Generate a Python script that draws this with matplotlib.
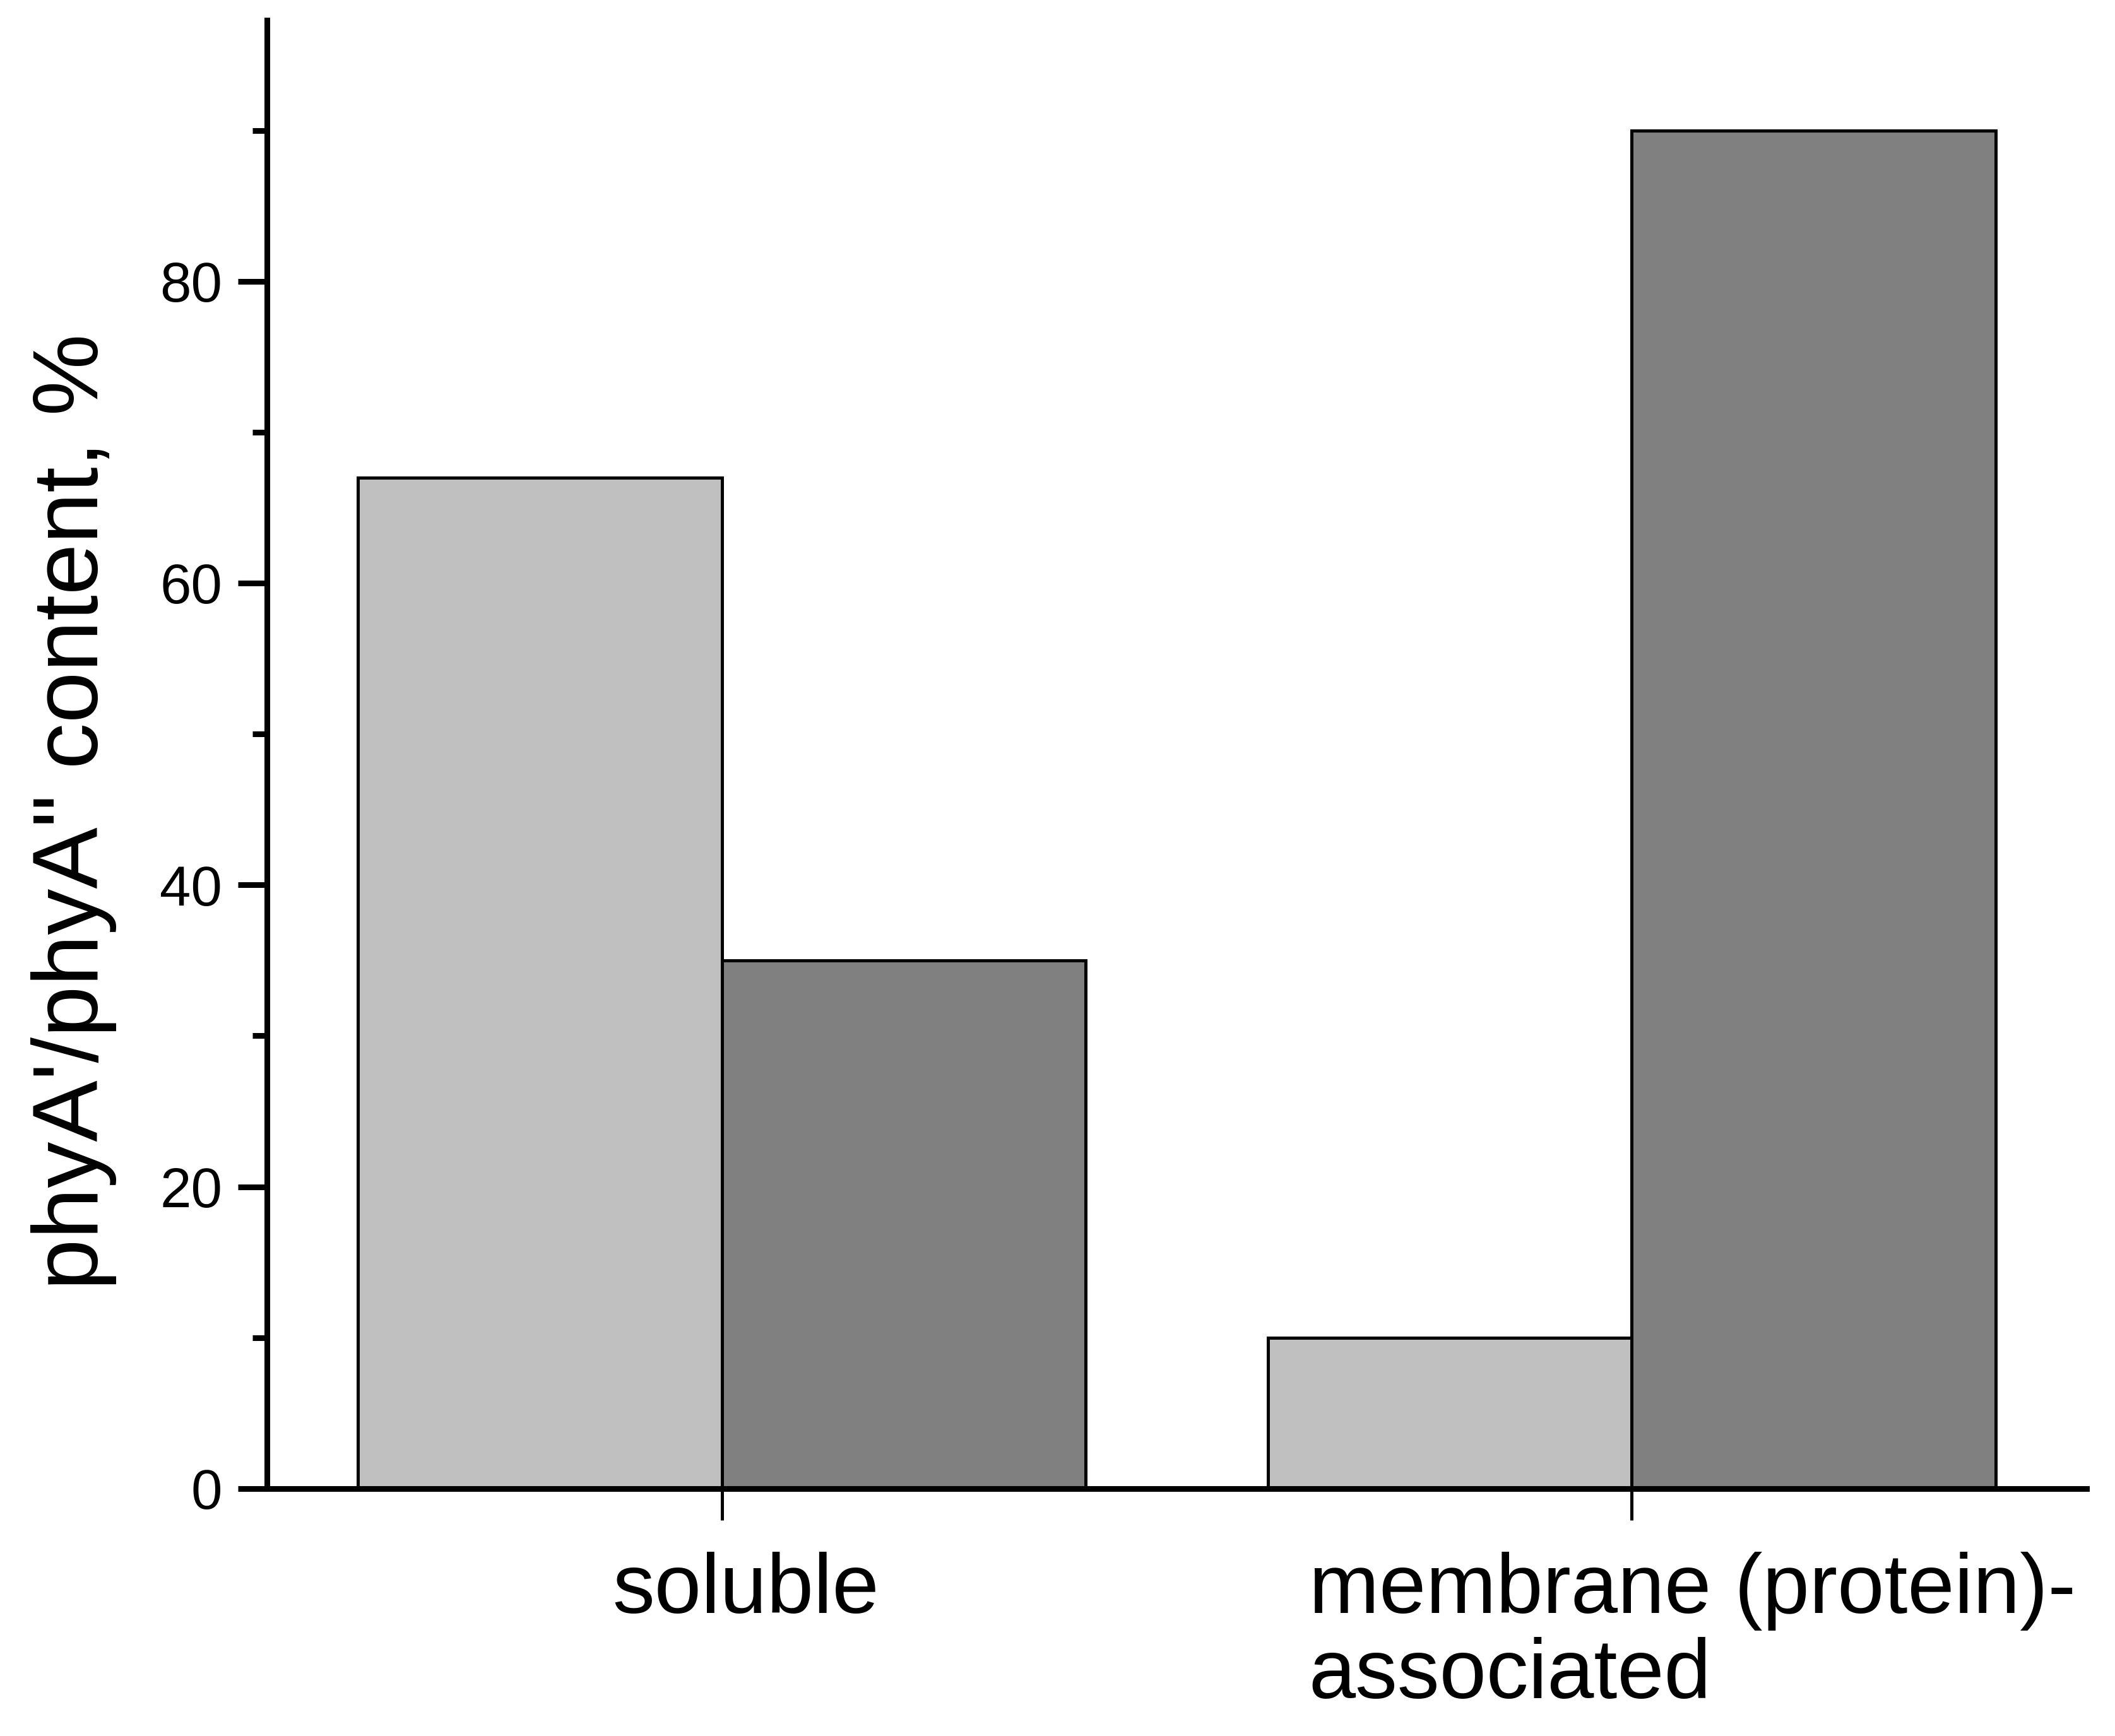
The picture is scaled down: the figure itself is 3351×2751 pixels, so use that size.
# phyA' / phyA'' distribution between soluble and membrane fractions

import numpy as np
import matplotlib.pyplot as plt
from matplotlib.ticker import MultipleLocator
from matplotlib.transforms import ScaledTranslation

plt.rcParams['font.family'] = ['Liberation Sans', 'DejaVu Sans']

# data
categories = ['soluble', 'membrane (protein)-\nassociated']
phyA_prime = [67, 10]      # light bars
phyA_dprime = [35, 90]     # dark bars

x = np.arange(1, len(categories) + 1)
w = 0.4

fig = plt.figure(figsize=(33.51, 27.51), dpi=100)
ax = fig.add_axes([0.1262, 0.1425, 0.8604, 0.8459])

ax.bar(x - w / 2, phyA_prime, width=w, color='#c0c0c0', edgecolor='black', linewidth=3.6)
ax.bar(x + w / 2, phyA_dprime, width=w, color='#808080', edgecolor='black', linewidth=3.6)

ax.set_xlim(0.5, 2.5)
ax.set_ylim(0, 97.3)

for s in ['top', 'right']:
    ax.spines[s].set_visible(False)
for s in ['left', 'bottom']:
    ax.spines[s].set_linewidth(6.5)

ax.yaxis.set_major_locator(MultipleLocator(20))
ax.yaxis.set_minor_locator(MultipleLocator(10))
ax.tick_params(axis='y', which='major', direction='out', length=33, width=6.5,
               labelsize=64, pad=18)
ax.tick_params(axis='y', which='minor', direction='out', length=16.5, width=6.5)

ax.set_xticks(x)
ax.set_xticklabels(categories, fontsize=96, linespacing=1.1, multialignment='left')
ax.tick_params(axis='x', direction='out', length=36, width=3.6, pad=36)

# labels sit a bit right of their ticks in the original
shifts = [27, 69]
for lab, dx in zip(ax.get_xticklabels(), shifts):
    lab.set_transform(lab.get_transform() + ScaledTranslation(dx / 72, 0, fig.dpi_scale_trans))

ax.set_ylabel('phyA\'/phyA" content, %', fontsize=105, va='center')
ax.yaxis.set_label_coords(-0.106, 0.461)

fig.savefig('out.png', dpi=100)
